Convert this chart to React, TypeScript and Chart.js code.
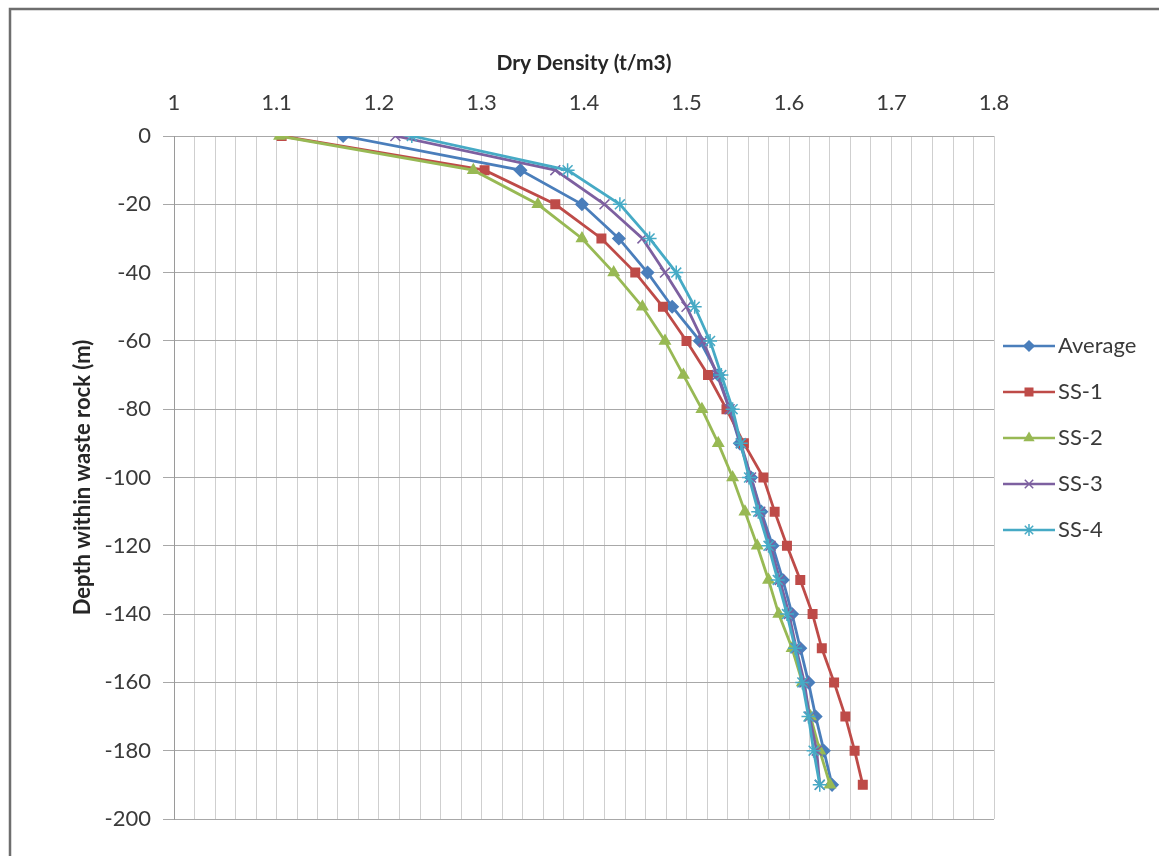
import React, { useEffect, useRef } from "react";
import { Chart, registerables } from "chart.js";

Chart.register(...registerables);

const depths = [0, -10, -20, -30, -40, -50, -60, -70, -80, -90, -100, -110, -120, -130, -140, -150, -160, -170, -180, -190];

const average = [1.165, 1.338, 1.398, 1.434, 1.462, 1.486, 1.513, 1.531, 1.542, 1.552, 1.563, 1.573, 1.584, 1.594, 1.603, 1.611, 1.619, 1.626, 1.634, 1.642];
const ss1 = [1.105, 1.303, 1.372, 1.417, 1.45, 1.477, 1.5, 1.521, 1.539, 1.556, 1.575, 1.586, 1.598, 1.611, 1.623, 1.632, 1.644, 1.655, 1.664, 1.672];
const ss2 = [1.103, 1.292, 1.355, 1.398, 1.429, 1.457, 1.479, 1.497, 1.515, 1.531, 1.545, 1.557, 1.569, 1.58, 1.59, 1.603, 1.613, 1.621, 1.63, 1.64];
const ss3 = [1.216, 1.372, 1.42, 1.457, 1.479, 1.5, 1.516, 1.53, 1.542, 1.553, 1.563, 1.572, 1.582, 1.591, 1.6, 1.607, 1.615, 1.62, 1.627, 1.63];
const ss4 = [1.232, 1.384, 1.435, 1.464, 1.49, 1.508, 1.523, 1.534, 1.545, 1.553, 1.561, 1.57, 1.58, 1.589, 1.598, 1.606, 1.613, 1.619, 1.624, 1.63];

const seriesNames = ["Average", "SS-1", "SS-2", "SS-3", "SS-4"];
const xTickLabels = ["1", "1.1", "1.2", "1.3", "1.4", "1.5", "1.6", "1.7", "1.8"];
const xMinorPerMajor = 5;
const xTitle = "Dry Density (t/m3)";
const yTitle = "Depth within waste rock (m)";

const FONT = "Lato, 'Open Sans', sans-serif";

const styles = [
  { color: "#4A7EBB", pointStyle: "rectRot", radius: 6 },
  { color: "#BE4B48", pointStyle: "rect", radius: 6 },
  { color: "#98B954", pointStyle: "triangle", radius: 6 },
  { color: "#7D60A0", pointStyle: "crossRot", radius: 7 },
  { color: "#46AAC5", pointStyle: "star", radius: 7 },
];

function drawMarker(ctx: CanvasRenderingContext2D, style: string, r: number, x: number, y: number) {
  ctx.beginPath();
  if (style === "rectRot") {
    ctx.moveTo(x, y - r);
    ctx.lineTo(x + r, y);
    ctx.lineTo(x, y + r);
    ctx.lineTo(x - r, y);
    ctx.closePath();
    ctx.fill();
    ctx.stroke();
  } else if (style === "rect") {
    const s = r * 0.75;
    ctx.rect(x - s, y - s, 2 * s, 2 * s);
    ctx.fill();
    ctx.stroke();
  } else if (style === "triangle") {
    ctx.moveTo(x, y - r);
    ctx.lineTo(x + r * 0.87, y + r * 0.5);
    ctx.lineTo(x - r * 0.87, y + r * 0.5);
    ctx.closePath();
    ctx.fill();
    ctx.stroke();
  } else if (style === "crossRot") {
    const s = r * 0.7;
    ctx.moveTo(x - s, y - s);
    ctx.lineTo(x + s, y + s);
    ctx.moveTo(x + s, y - s);
    ctx.lineTo(x - s, y + s);
    ctx.stroke();
  } else if (style === "star") {
    const s = r * 0.7;
    ctx.moveTo(x - s, y - s);
    ctx.lineTo(x + s, y + s);
    ctx.moveTo(x + s, y - s);
    ctx.lineTo(x - s, y + s);
    ctx.moveTo(x, y - r);
    ctx.lineTo(x, y + r);
    ctx.stroke();
  }
}

const frameAndLegend = {
  id: "frameAndLegend",
  beforeDraw(chart: any) {
    const ctx = chart.ctx;
    ctx.save();
    ctx.fillStyle = "#ffffff";
    ctx.fillRect(0, 0, chart.width, chart.height);
    ctx.strokeStyle = "#6e6e6e";
    ctx.lineWidth = 2.5;
    ctx.strokeRect(10, 9, chart.width + 20, chart.height + 20);
    ctx.restore();
  },
  afterDraw(chart: any) {
    const ctx = chart.ctx;
    ctx.save();
    chart.data.datasets.forEach((ds: any, i: number) => {
      const y = 346 + 46 * i;
      ctx.strokeStyle = ds.borderColor;
      ctx.lineWidth = 2.5;
      ctx.beginPath();
      ctx.moveTo(1003, y);
      ctx.lineTo(1055, y);
      ctx.stroke();
      ctx.fillStyle = ds.pointBackgroundColor;
      ctx.strokeStyle = ds.pointBorderColor;
      ctx.lineWidth = 1.5;
      drawMarker(ctx, ds.pointStyle, ds.pointRadius - 1, 1029, y);
      ctx.fillStyle = "#3a3a3a";
      ctx.font = `22px ${FONT}`;
      ctx.textBaseline = "middle";
      ctx.textAlign = "left";
      ctx.fillText(ds.label, 1058, y);
    });
    ctx.restore();
  },
};

export default function App() {
  const ref = useRef<HTMLCanvasElement | null>(null);

  useEffect(() => {
    if (!ref.current) return;
    const all = [average, ss1, ss2, ss3, ss4];
    const datasets = all.map((vals, i) => ({
      label: seriesNames[i],
      data: vals.map((v, j) => ({ x: v, y: depths[j] })),
      showLine: true,
      borderColor: styles[i].color,
      backgroundColor: styles[i].color,
      pointBackgroundColor: styles[i].color,
      pointBorderColor: styles[i].color,
      pointStyle: styles[i].pointStyle,
      pointRadius: styles[i].radius,
      pointBorderWidth: 1.5,
      borderWidth: 2.8,
      tension: 0,
      order: 5 - i,
    }));

    const chart = new Chart(ref.current, {
      type: "scatter",
      data: { datasets },
      options: {
        animation: false,
        responsive: false,
        devicePixelRatio: 1,
        layout: { padding: { left: 0, top: 0, right: 165, bottom: 37 } },
        plugins: { legend: { display: false }, tooltip: { enabled: false } },
        scales: {
          x: {
            type: "linear",
            position: "top",
            min: 1,
            max: 1.8,
            afterBuildTicks(scale: any) {
              const ticks: any[] = [];
              const n = (xTickLabels.length - 1) * xMinorPerMajor;
              for (let k = 0; k <= n; k++) {
                ticks.push({ value: Math.round((1 + (k * 0.1) / xMinorPerMajor) * 1000) / 1000 });
              }
              scale.ticks = ticks;
            },
            afterFit(scale: any) {
              scale.height = 136;
            },
            ticks: {
              autoSkip: false,
              maxRotation: 0,
              padding: 20,
              color: "#3a3a3a",
              font: { family: FONT, size: 22 },
              callback(value: any) {
                const k = Math.round(((Number(value) - 1) / 0.1) * 1000) / 1000;
                return Number.isInteger(k) ? xTickLabels[k] : "";
              },
            },
            grid: { color: "#cfcfcf", lineWidth: 1, drawTicks: false },
            border: { display: false },
            title: {
              display: true,
              text: xTitle,
              color: "#262626",
              font: { family: FONT, size: 21, weight: "bold" },
              padding: { top: 51, bottom: 0 },
            },
          },
          y: {
            type: "linear",
            min: -200,
            max: 0,
            afterFit(scale: any) {
              scale.width = 174;
            },
            ticks: {
              stepSize: 20,
              padding: 12,
              color: "#3a3a3a",
              font: { family: FONT, size: 22 },
            },
            grid: { color: "#a8a8a8", lineWidth: 1, tickLength: 11, drawTicks: true },
            border: { display: true, color: "#9a9a9a", width: 1 },
            title: {
              display: true,
              text: yTitle,
              color: "#262626",
              font: { family: FONT, size: 22, weight: "bold" },
              padding: { top: 70, bottom: 0 },
            },
          },
        },
      },
      plugins: [frameAndLegend],
    } as any);

    return () => chart.destroy();
  }, []);

  return (
    <div style={{ position: "fixed", left: 0, top: 0, width: 1159, height: 856, overflow: "hidden" }}>
      <canvas ref={ref} width={1159} height={856} />
    </div>
  );
}
